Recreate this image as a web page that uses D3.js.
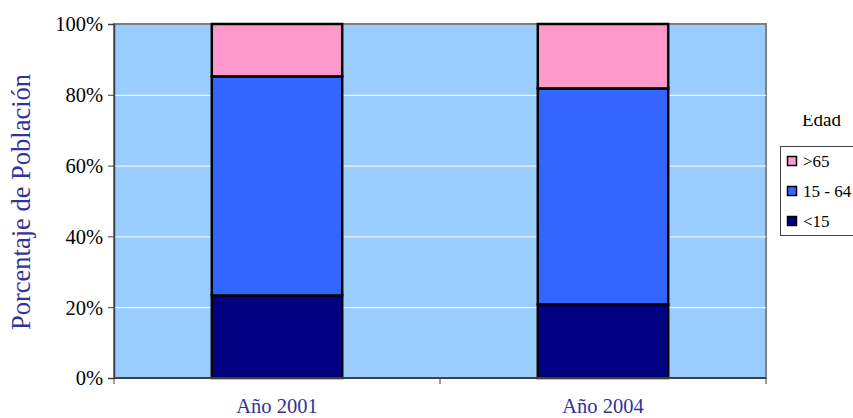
<!DOCTYPE html>
<html>
<head>
<meta charset="utf-8">
<script src="https://cdn.jsdelivr.net/npm/d3@7"></script>
<style>
  html, body { margin: 0; padding: 0; background: #fff; }
  svg { display: block; }
  svg text { font-family: "Liberation Serif", "Times New Roman", serif; }
</style>
</head>
<body>
<svg id="chart" width="853" height="418"></svg>
<script>
// Population share by age group
const categories = ["Año 2001", "Año 2004"];
const groups = ["<15", "15 - 64", ">65"];
const under15 = [23.3, 20.8];
const age15to64 = [61.9, 61.0];
const over65 = [14.8, 18.2];
const yTicks = [0, 20, 40, 60, 80, 100];
const legendOrder = [">65", "15 - 64", "<15"];
const colors = { "<15": "#000080", "15 - 64": "#3366FF", ">65": "#FF99CC" };

const SERIF = "'Liberation Serif', 'Times New Roman', serif";
const svg = d3.select("#chart").attr("font-family", SERIF);
const plot = { left: 114, right: 766, top: 24, bottom: 378 };

const x = d3.scaleBand().domain(categories)
  .range([plot.left, plot.right]).paddingInner(0.6).paddingOuter(0.3);
const xOuter = d3.scaleBand().domain(categories).range([plot.left, plot.right]);
const y = d3.scaleLinear().domain([0, 100]).range([plot.bottom, plot.top]);

// Plot background
svg.append("rect")
  .attr("x", plot.left).attr("y", plot.top)
  .attr("width", plot.right - plot.left).attr("height", plot.bottom - plot.top)
  .attr("fill", "#99CCFF").attr("stroke", "#808080").attr("stroke-width", 2);

// Horizontal gridlines
svg.append("g").selectAll("line")
  .data(yTicks.filter(d => d > 0 && d < 100))
  .join("line")
  .attr("x1", plot.left).attr("x2", plot.right)
  .attr("y1", d => y(d) + 0.5).attr("y2", d => y(d) + 0.5)
  .attr("stroke", "#fff").attr("stroke-width", 1);

// Stacked data
const rows = categories.map((c, i) => ({
  cat: c, "<15": under15[i], "15 - 64": age15to64[i], ">65": over65[i]
}));
const stacked = d3.stack().keys(groups)(rows);

svg.append("g").selectAll("g")
  .data(stacked)
  .join("g")
  .attr("fill", d => colors[d.key])
  .selectAll("rect")
  .data(d => d)
  .join("rect")
  .attr("x", d => x(d.data.cat))
  .attr("width", x.bandwidth())
  .attr("y", d => y(d[1]))
  .attr("height", d => y(d[0]) - y(d[1]))
  .attr("stroke", "#000").attr("stroke-width", 2.5);

// Y axis
const yAxis = d3.axisLeft(y).tickValues(yTicks).tickFormat(d => d + "%")
  .tickSize(6).tickPadding(5);
const gy = svg.append("g").attr("transform", `translate(${plot.left},0)`).call(yAxis)
  .attr("font-family", SERIF).attr("font-size", 20.5);
gy.select(".domain").attr("stroke", "#404040").attr("stroke-width", 1.5);
gy.selectAll(".tick line").attr("stroke", "#404040");
gy.selectAll(".tick text").attr("fill", "#000").attr("dy", "0.34em");

// X axis with category separators
const gx = svg.append("g").attr("transform", `translate(0,${plot.bottom})`);
gx.append("line").attr("x1", plot.left).attr("x2", plot.right)
  .attr("y1", 0).attr("y2", 0).attr("stroke", "#404040").attr("stroke-width", 2);
const seps = [plot.left, ...categories.map(c => xOuter(c) + xOuter.bandwidth())];
gx.selectAll("line.sep").data(seps).join("line").attr("class", "sep")
  .attr("x1", d => d).attr("x2", d => d).attr("y1", 0).attr("y2", 6)
  .attr("stroke", "#404040");
gx.selectAll("text").data(categories).join("text")
  .attr("x", d => x(d) + x.bandwidth() / 2).attr("y", 35)
  .attr("text-anchor", "middle").attr("fill", "#333399")
  .attr("font-size", 20.5).text(d => d);

// Y axis title
svg.append("text")
  .attr("transform", `translate(30,${(plot.top + plot.bottom) / 2 + 1}) rotate(-90)`)
  .attr("text-anchor", "middle").attr("fill", "#333399")
  .attr("font-size", 26.5).text("Porcentaje de Población");

// Legend
const clip = svg.append("clipPath").attr("id", "legendClip");
clip.append("rect").attr("x", 770).attr("y", 115).attr("width", 90).attr("height", 40);
svg.append("text").attr("x", 802).attr("y", 126)
  .attr("clip-path", "url(#legendClip)")
  .attr("fill", "#000").attr("font-size", 19).text("Edad");

const lg = svg.append("g");
lg.append("rect").attr("x", 780.5).attr("y", 146.5).attr("width", 90).attr("height", 89)
  .attr("fill", "#fff").attr("stroke", "#404040").attr("stroke-width", 1);
const items = lg.selectAll("g.item").data(legendOrder).join("g").attr("class", "item")
  .attr("transform", (d, i) => `translate(787,${161 + i * 30})`);
items.append("rect").attr("x", 0.5).attr("y", -4.5).attr("width", 9).attr("height", 9)
  .attr("fill", d => colors[d]).attr("stroke", "#000").attr("stroke-width", 1.5);
items.append("text").attr("x", 16).attr("y", 5.5)
  .attr("fill", "#000").attr("font-size", 17).text(d => d);
</script>
</body>
</html>
